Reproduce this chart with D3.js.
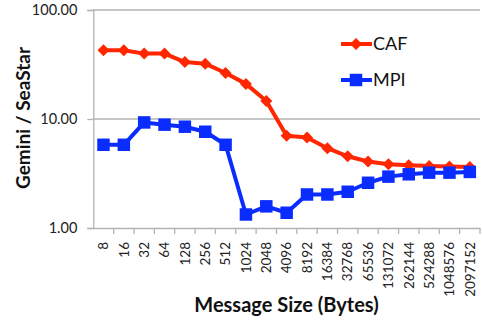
<!DOCTYPE html>
<html><head><meta charset="utf-8">
<script src="https://cdn.jsdelivr.net/npm/d3@7"></script>
<style>body{margin:0;background:#fff}svg{display:block}</style>
</head><body>
<script>
const categories = ["8","16","32","64","128","256","512","1024","2048","4096","8192","16384","32768","65536","131072","262144","524288","1048576","2097152"];
const cafValues = [42.8,42.8,39.8,39.8,33.3,32.2,26.4,21.0,14.6,7.02,6.77,5.40,4.55,4.07,3.84,3.76,3.71,3.66,3.63];
const mpiValues = [5.80,5.80,9.3,8.87,8.50,7.64,5.80,1.33,1.58,1.38,2.03,2.03,2.15,2.60,2.96,3.11,3.22,3.22,3.27];
const yTicks = [1,10,100];
const seriesNames = ["CAF","MPI"];
const colors = ["#ff2600","#0a2cff"];

const W=482,H=320;
const svg=d3.select("body").append("svg").attr("width",W).attr("height",H);
const font="Lato, 'Open Sans', sans-serif";
const x=d3.scaleBand().domain(categories).range([93.3,480]);
const y=d3.scaleLog().domain([1,100]).range([228,10]);

// gridlines
svg.append("g").selectAll("line").data(yTicks.slice(1)).join("line")
  .attr("x1",93).attr("x2",480).attr("y1",d=>y(d)).attr("y2",d=>y(d))
  .attr("stroke","#b3b3b3").attr("stroke-width",1.3);

// y axis
const ya=svg.append("g").attr("transform","translate(93.3,0)")
  .call(d3.axisLeft(y).tickValues(yTicks).tickFormat(d3.format(".2f")).tickSize(6).tickPadding(10));
ya.select(".domain").attr("stroke","#b3b3b3").attr("stroke-width",1.3);
ya.selectAll(".tick line").attr("stroke","#b3b3b3").attr("stroke-width",1.3);
ya.selectAll("text").attr("font-family",font).attr("font-size",14.5).attr("fill","#222");

// x axis
const xa=svg.append("g").attr("transform","translate(0,228)")
  .call(d3.axisBottom(x).tickSize(6).tickSizeOuter(0));
xa.select(".domain").attr("stroke","#b3b3b3").attr("stroke-width",1.3);
xa.selectAll(".tick line").attr("stroke","#b3b3b3").attr("stroke-width",1.3)
  .attr("transform",`translate(${x.bandwidth()/2},0)`);
xa.selectAll("text").attr("font-family",font).attr("font-size",13.5).attr("fill","#222")
  .attr("transform","rotate(-90)").attr("text-anchor","end").attr("dy","0.35em")
  .attr("x",-14).attr("y",0);

const cx=d=>x(d)+x.bandwidth()/2;
const line=d3.line().x((d,i)=>cx(categories[i])).y(d=>y(d));

const diamond=d3.symbol().type(d3.symbolSquare).size(72);
const square=d3.symbol().type(d3.symbolSquare).size(156);
const series=[cafValues,mpiValues];
series.forEach((vals,k)=>{
  svg.append("path").datum(vals).attr("d",line).attr("fill","none")
    .attr("stroke",colors[k]).attr("stroke-width",4).attr("stroke-linejoin","round");
  svg.append("g").selectAll("path").data(vals).join("path")
    .attr("d",k===0?diamond():square())
    .attr("transform",(d,i)=>`translate(${cx(categories[i])},${y(d)})${k===0?" rotate(45)":""}`)
    .attr("fill",colors[k]);
});

// legend
const legY=[44,80];
seriesNames.forEach((n,k)=>{
  const g=svg.append("g");
  g.append("line").attr("x1",341).attr("x2",372).attr("y1",legY[k]).attr("y2",legY[k])
    .attr("stroke",colors[k]).attr("stroke-width",4);
  g.append("path").attr("d",k===0?diamond():square())
    .attr("transform",`translate(356,${legY[k]})${k===0?" rotate(45)":""}`).attr("fill",colors[k]);
  g.append("text").attr("x",373).attr("y",legY[k]).attr("dy","0.36em")
    .attr("font-family",font).attr("font-size",18).attr("fill","#111").text(n);
});

// titles
svg.append("text").attr("x",286.5).attr("y",312).attr("text-anchor","middle")
  .attr("font-family",font).attr("font-weight","bold").attr("font-size",20).attr("fill","#111")
  .text("Message Size (Bytes)");
svg.append("text").attr("transform","translate(30,118) rotate(-90)").attr("text-anchor","middle")
  .attr("font-family",font).attr("font-weight","bold").attr("font-size",19).attr("fill","#111")
  .text("Gemini / SeaStar");
</script>
</body></html>
